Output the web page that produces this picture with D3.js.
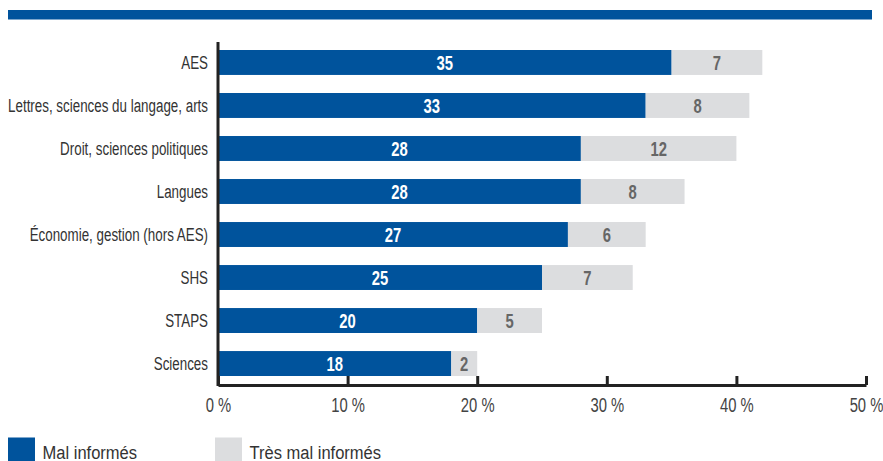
<!DOCTYPE html>
<html>
<head>
<meta charset="utf-8">
<script src="https://cdn.jsdelivr.net/npm/d3@7"></script>
<style>
  html, body { margin: 0; padding: 0; background: #fff; }
  svg { display: block; font-family: "Liberation Sans", Arial, sans-serif; }
</style>
</head>
<body>
<svg id="chart" width="883" height="461"></svg>
<script>
// Filières and shares of students (%) who feel badly informed
const categories = [
  "AES",
  "Lettres, sciences du langage, arts",
  "Droit, sciences politiques",
  "Langues",
  "Économie, gestion (hors AES)",
  "SHS",
  "STAPS",
  "Sciences"
];
const malInformes = [35, 33, 28, 28, 27, 25, 20, 18];
const tresMalInformes = [7, 8, 12, 8, 6, 7, 5, 2];
const xTicks = [0, 10, 20, 30, 40, 50];
const seriesNames = ["Mal informés", "Très mal informés"];

const BLUE = "#00539c";
const GREY = "#dcdddf";
const NARROW = 0.76; // horizontal squeeze giving a condensed face

const svg = d3.select("#chart");

// Place a text at (px, py) with condensed glyphs
function narrowText(parent, px, py, str, k = NARROW) {
  return parent.append("text")
    .attr("transform", `translate(${px},${py}) scale(${k},1)`)
    .text(str);
}

// Header rule
svg.append("rect")
  .attr("x", 8).attr("y", 10)
  .attr("width", 864).attr("height", 9.5)
  .attr("fill", BLUE);

const x = d3.scaleLinear().domain([0, 50]).range([218, 866]);
const y = d3.scaleBand().domain(categories).range([50, 376]).paddingInner(0.42).paddingOuter(0);

const rows = categories.map((c, i) => ({ cat: c, a: malInformes[i], b: tresMalInformes[i] }));

const g = svg.append("g");

// Stacked bars
const row = g.selectAll("g.row").data(rows).join("g").attr("class", "row");

row.append("rect")
  .attr("x", d => x(0))
  .attr("y", d => y(d.cat))
  .attr("width", d => x(d.a) - x(0))
  .attr("height", y.bandwidth())
  .attr("fill", BLUE);

row.append("rect")
  .attr("x", d => x(d.a))
  .attr("y", d => y(d.cat))
  .attr("width", d => x(d.a + d.b) - x(d.a))
  .attr("height", y.bandwidth())
  .attr("fill", GREY);

// Value labels and category labels
row.each(function (d) {
  const r = d3.select(this);
  const cy = y(d.cat) + y.bandwidth() / 2;
  narrowText(r, (x(0) + x(d.a)) / 2, cy, d.a)
    .attr("dy", "0.36em")
    .attr("text-anchor", "middle")
    .attr("fill", "#fff")
    .attr("font-weight", "bold")
    .attr("font-size", 19.5);
  narrowText(r, (x(d.a) + x(d.a + d.b)) / 2, cy, d.b)
    .attr("dy", "0.36em")
    .attr("text-anchor", "middle")
    .attr("fill", "#666")
    .attr("font-weight", "bold")
    .attr("font-size", 19.5);
  narrowText(r, 208, cy, d.cat)
    .attr("dy", "0.36em")
    .attr("text-anchor", "end")
    .attr("fill", "#333")
    .attr("font-size", 17.6);
});

// Vertical baseline
g.append("line")
  .attr("x1", x(0)).attr("x2", x(0))
  .attr("y1", 42).attr("y2", 386)
  .attr("stroke", "#222").attr("stroke-width", 3);

// Bottom axis with ticks pointing up
const xAxis = d3.axisBottom(x)
  .tickValues(xTicks)
  .tickSizeInner(-9)
  .tickSizeOuter(0)
  .tickPadding(13)
  .tickFormat(d => d + " %");

const ax = svg.append("g")
  .attr("transform", "translate(0,385)")
  .call(xAxis);
ax.select(".domain").attr("stroke", "#222").attr("stroke-width", 3);
ax.selectAll(".tick line").attr("stroke", "#222").attr("stroke-width", 3);
ax.selectAll(".tick text")
  .attr("fill", "#444")
  .attr("font-size", 19.5)
  .attr("font-family", "\"Liberation Sans\", Arial, sans-serif")
  .attr("transform", `scale(${NARROW},1)`);

// Legend
const legend = svg.append("g");
const legendItems = [
  { name: seriesNames[0], color: BLUE, x: 8 },
  { name: seriesNames[1], color: GREY, x: 215 }
];
legendItems.forEach(d => {
  const li = legend.append("g").attr("transform", `translate(${d.x},437.5)`);
  li.append("rect").attr("width", 27).attr("height", 26).attr("fill", d.color);
  narrowText(li, 34.5, 21.5, d.name, 0.87)
    .attr("fill", "#333")
    .attr("font-size", 19);
});
</script>
</body>
</html>
